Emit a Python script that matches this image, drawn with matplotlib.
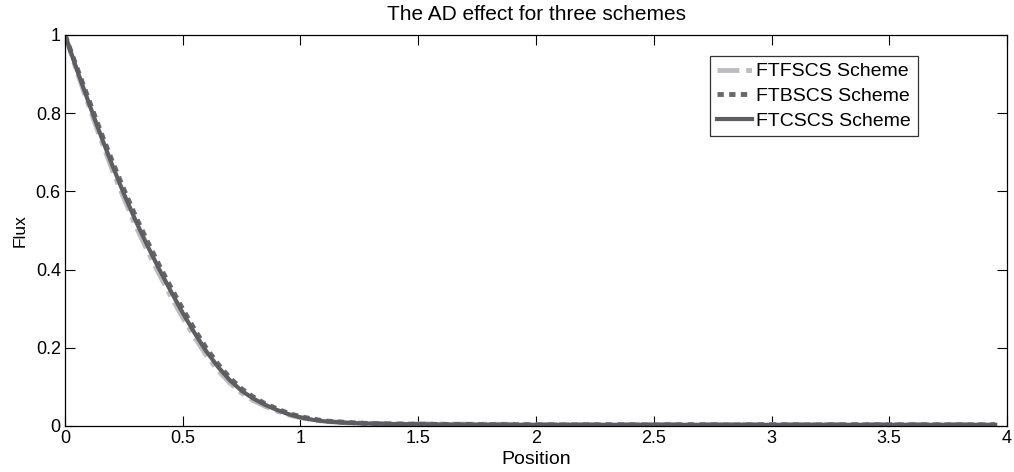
import numpy as np
import matplotlib
matplotlib.use('Agg')
import matplotlib.pyplot as plt

plt.rcParams['font.family'] = ['Liberation Sans', 'DejaVu Sans']

# Position values (x)
position = [0.00, 0.05, 0.10, 0.15, 0.20, 0.25, 0.30, 0.35, 0.40, 0.45,
            0.50, 0.55, 0.60, 0.65, 0.70, 0.75, 0.80, 0.85, 0.90, 0.95,
            1.00, 1.05, 1.10, 1.15, 1.20, 1.30, 1.40, 1.60, 2.00, 2.50,
            3.00, 3.50, 3.95]

# FTCSCS (solid, middle curve)
flux_ftcscs = [1.000, 0.912, 0.828, 0.746, 0.668, 0.594, 0.525, 0.461, 0.401, 0.344,
               0.289, 0.238, 0.191, 0.151, 0.117, 0.090, 0.070, 0.054, 0.041, 0.030,
               0.022, 0.016, 0.012, 0.010, 0.008, 0.006, 0.005, 0.004, 0.003, 0.003,
               0.003, 0.003, 0.003]

# FTFSCS (light dash-dot, slightly lower)
flux_ftfscs = [1.000, 0.907, 0.820, 0.736, 0.656, 0.582, 0.512, 0.448, 0.388, 0.331,
               0.277, 0.227, 0.181, 0.142, 0.110, 0.084, 0.065, 0.050, 0.038, 0.028,
               0.021, 0.016, 0.012, 0.010, 0.008, 0.007, 0.006, 0.005, 0.004, 0.004,
               0.004, 0.004, 0.004]

# FTBSCS (dark dotted, slightly higher)
flux_ftbscs = [1.000, 0.917, 0.836, 0.755, 0.678, 0.605, 0.536, 0.472, 0.411, 0.354,
               0.299, 0.247, 0.199, 0.158, 0.123, 0.095, 0.074, 0.057, 0.044, 0.032,
               0.024, 0.018, 0.013, 0.011, 0.009, 0.006, 0.005, 0.004, 0.003, 0.003,
               0.003, 0.003, 0.003]

fig = plt.figure(figsize=(10.14, 4.72), dpi=100)
ax = fig.add_axes([0.0641, 0.0975, 0.9290, 0.8285])

ax.plot(position, flux_ftfscs, color='#bdbdc1', lw=3.5,
        linestyle=(0, (4.5, 1.4, 1.2, 1.4)), dash_capstyle='butt',
        label='FTFSCS Scheme')
ax.plot(position, flux_ftbscs, color='#68686c', lw=3.5,
        linestyle=(0, (1.3, 1.1)), dash_capstyle='butt',
        label='FTBSCS Scheme')
ax.plot(position, flux_ftcscs, color='#5e5e62', lw=3.0,
        label='FTCSCS Scheme')

ax.set_xlim(0, 4)
ax.set_ylim(0, 1)
ax.set_xticks(np.arange(0, 4.01, 0.5))
ax.set_xticklabels(['0', '0.5', '1', '1.5', '2', '2.5', '3', '3.5', '4'])
ax.set_yticks([0, 0.2, 0.4, 0.6, 0.8, 1])
ax.set_yticklabels(['0', '0.2', '0.4', '0.6', '0.8', '1'])
ax.tick_params(direction='in', top=True, right=True, length=7, width=0.8,
               labelsize=13, pad=3)
for s in ax.spines.values():
    s.set_linewidth(0.9)

ax.set_title('The AD effect for three schemes', fontsize=15, pad=11)
ax.set_xlabel('Position', fontsize=14, labelpad=3)
ax.set_ylabel('Flux', fontsize=12.5, labelpad=6)

leg = ax.legend(loc='upper right', bbox_to_anchor=(0.9055, 0.946),
                fontsize=14, frameon=True, fancybox=False,
                handlelength=1.8, handletextpad=0.25, labelspacing=0.36,
                borderpad=0.35, borderaxespad=0)
leg.get_frame().set_edgecolor('black')
leg.get_frame().set_linewidth(0.9)

fig.savefig('out.png', dpi=100)
